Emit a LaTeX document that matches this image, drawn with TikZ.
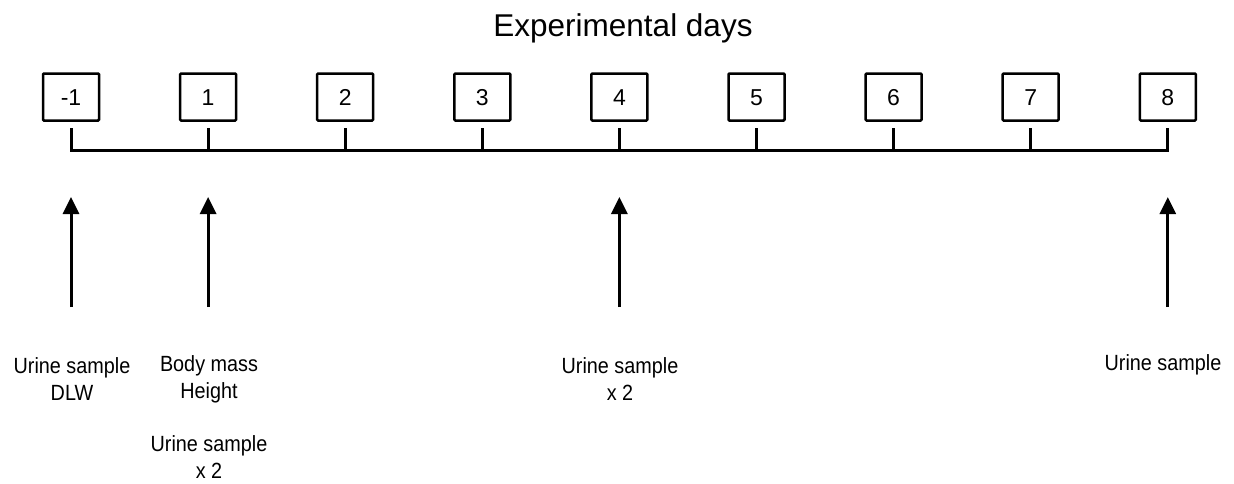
\documentclass[tikz,border=0pt]{standalone}
\usepackage{fontspec}
\setmainfont{Liberation Sans}
\newfontfamily\narrowsans[FakeStretch=0.9]{Liberation Sans}
\usetikzlibrary{arrows.meta}
\begin{document}
\begin{tikzpicture}[x=1pt,y=-1pt,
  daybox/.style={draw,line width=2.5pt,rounded corners=1pt,minimum width=56pt,minimum height=47pt,inner sep=0pt,text height=16.5pt,text depth=0pt,font=\fontsize{23}{23}\selectfont},
  tl/.style={line width=3pt},
  up/.style={line width=3pt,-{Triangle[width=16pt,length=17pt]}},
  lab/.style={font=\narrowsans\fontsize{22}{27}\selectfont,align=center,inner sep=0pt}]
\useasboundingbox (0,0) rectangle (1234,483);
\node[font=\fontsize{31.5}{31.5}\selectfont] (title) at (623,28) {Experimental days};
\foreach \i/\t in {0/-1,1/1,2/2,3/3,4/4,5/5,6/6,7/7,8/8}{
  \pgfmathsetmacro{\xx}{71+137.1*\i}
  \node[daybox] (d\i) at (\xx,97) {\t};
  \coordinate (t\i) at (\xx,128);
  \coordinate (b\i) at (\xx,150);
  \draw[tl] (t\i) -- (b\i);
}
\draw[tl,line cap=rect] (b0) -- (b8);
\foreach \i in {0,1,4,8}{
  \pgfmathsetmacro{\xx}{71+137.1*\i}
  \coordinate (a\i) at (\xx,307);
  \coordinate (h\i) at (\xx,197);
  \draw[up] (a\i) -- (h\i);
}
\node[lab] (l0) at (72,379) {Urine sample\\DLW};
\node[lab] (l1) at (209,379) {Body mass\\Height};
\node[lab] (l1b) at (209,457) {Urine sample\\x 2};
\node[lab] (l4) at (620,379) {Urine sample\\x 2};
\node[lab] (l8) at (1163,365) {Urine sample};
\end{tikzpicture}
\end{document}
